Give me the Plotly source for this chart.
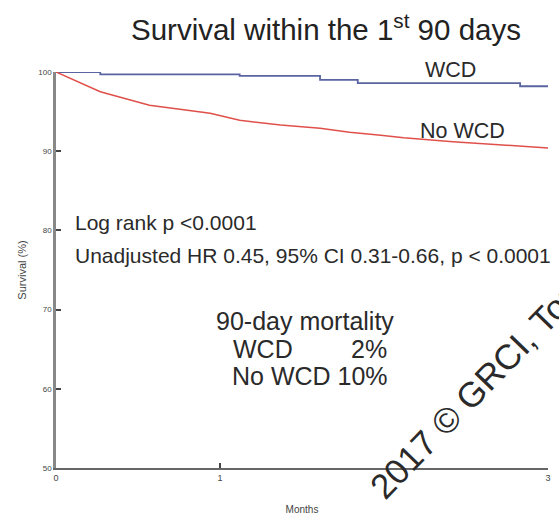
import plotly.graph_objects as go

# Data (months, survival %)
wcd_months = [0, 0.27, 0.27, 1.12, 1.12, 1.61, 1.61, 1.84, 1.84, 2.83, 2.83, 3.0]
wcd_surv = [100, 100, 99.7, 99.7, 99.5, 99.5, 99.0, 99.0, 98.6, 98.6, 98.2, 98.2]

nowcd_months = [0, 0.085, 0.27, 0.57, 0.94, 1.12, 1.37, 1.61, 1.79, 1.98, 2.12, 2.42, 2.89, 3.0]
nowcd_surv = [100, 99.2, 97.5, 95.8, 94.8, 93.9, 93.3, 92.9, 92.4, 92.0, 91.7, 91.2, 90.5, 90.4]

x_ticks = [0, 1, 3]
y_ticks = [50, 60, 70, 80, 90, 100]

FONT = "Liberation Sans, Arial, sans-serif"

fig = go.Figure()
fig.add_trace(go.Scatter(x=wcd_months, y=wcd_surv, mode="lines",
                         line=dict(color="#5a64a0", width=1.8), showlegend=False))
fig.add_trace(go.Scatter(x=nowcd_months, y=nowcd_surv, mode="lines",
                         line=dict(color="#e0504a", width=1.5), showlegend=False))

fig.update_layout(
    width=559, height=516,
    margin=dict(l=56, r=11, t=72, b=48),
    paper_bgcolor="white", plot_bgcolor="white",
    font=dict(family=FONT, color="#333"),
)
fig.update_xaxes(range=[0, 3], tickvals=x_ticks, ticktext=[str(v) for v in x_ticks],
                 ticks="inside", ticklen=5, tickcolor="#444", tickwidth=1.5,
                 showline=True, linecolor="#666", linewidth=2, showgrid=False, zeroline=False,
                 tickfont=dict(size=9, color="#444"), automargin=False,
                 title=dict(text="Months", font=dict(size=10, color="#444"), standoff=24))
fig.update_yaxes(range=[50, 100], tickvals=y_ticks, ticktext=[str(v) for v in y_ticks],
                 ticks="inside", ticklen=5, tickcolor="#444", tickwidth=1.5,
                 showline=True, linecolor="#888", linewidth=2.5, showgrid=False, zeroline=False,
                 tickfont=dict(size=8, color="#444"), automargin=False,
                 title=dict(text="Survival (%)", font=dict(size=11, color="#444"), standoff=10))

W = 559 - 56 - 11
H = 516 - 72 - 48
def px(x):
    return (x - 56) / W
def py(y):
    return (468 - y) / H

def ann(text, x, y, size, anchor="left", color="#2a2a2a", **kw):
    fig.add_annotation(text=text, x=px(x), y=py(y), xref="paper", yref="paper",
                       xanchor=anchor, yanchor="middle", showarrow=False,
                       font=dict(size=size, family=FONT, color=color), **kw)

ann("Survival within the 1<sup>st</sup> 90 days", 326, 27, 29.5, anchor="center", color="#222")
ann("WCD", 423, 70, 21.5)
ann("No WCD", 418, 131, 21.5)
ann("Log rank p <0.0001", 73, 222, 21)
ann("Unadjusted HR 0.45, 95% CI 0.31-0.66, p < 0.0001", 73, 255, 21)
ann("90-day mortality", 214, 321, 25)
ann("WCD", 231, 349, 25)
ann("2%", 389, 349, 25, anchor="right")
ann("No WCD 10%", 230, 376, 25)
ann("2017 © GRCI, Tours", 485, 379, 35, anchor="center", textangle=-46)

fig.write_html("out.html")
